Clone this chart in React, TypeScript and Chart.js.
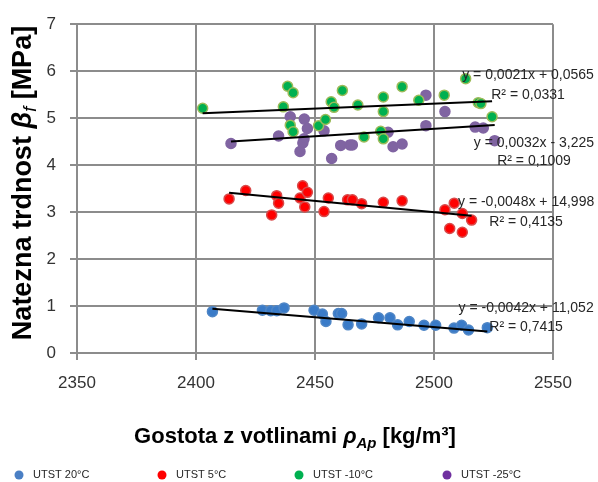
import React, { useEffect, useRef } from "react";
import { Chart, registerables } from "chart.js";

Chart.register(...registerables);

const FF = "'Liberation Sans', Arial, sans-serif";

// ---- data ----
const seriesLabels = ["UTST 20°C", "UTST 5°C", "UTST -10°C", "UTST -25°C"];

const blueX = [2406.9, 2427.9, 2431.4, 2433.9, 2437.0, 2449.6, 2453.1, 2454.6, 2459.8, 2461.2, 2463.9, 2469.6, 2476.7, 2481.5, 2484.7, 2489.6, 2495.8, 2500.7, 2508.4, 2511.6, 2514.5, 2522.4];
const blueY = [0.88, 0.91, 0.90, 0.90, 0.96, 0.91, 0.83, 0.67, 0.84, 0.84, 0.60, 0.62, 0.75, 0.75, 0.60, 0.67, 0.59, 0.59, 0.53, 0.59, 0.49, 0.54];

const redX = [2413.9, 2420.9, 2431.8, 2433.9, 2434.7, 2443.7, 2444.8, 2445.7, 2446.8, 2453.8, 2455.6, 2463.7, 2465.7, 2469.6, 2478.7, 2486.6, 2504.6, 2506.6, 2508.5, 2511.9, 2511.9, 2515.8];
const redY = [3.28, 3.46, 2.94, 3.35, 3.19, 3.30, 3.56, 3.11, 3.42, 3.01, 3.30, 3.26, 3.26, 3.18, 3.21, 3.24, 3.05, 2.65, 3.19, 2.97, 2.57, 2.83];

const greenX = [2402.8, 2436.7, 2438.5, 2439.6, 2440.8, 2440.8, 2451.5, 2454.4, 2456.8, 2458.0, 2461.5, 2468.0, 2470.6, 2477.6, 2478.7, 2478.7, 2478.7, 2486.6, 2493.6, 2504.3, 2513.3, 2518.6, 2519.7, 2524.4];
const greenY = [5.21, 5.24, 5.68, 4.85, 5.54, 4.71, 4.84, 4.97, 5.35, 5.23, 5.59, 5.28, 4.60, 4.72, 4.56, 5.45, 5.14, 5.67, 5.38, 5.49, 5.84, 5.33, 5.31, 5.03];

const purpleX = [2414.7, 2434.7, 2439.6, 2443.7, 2444.9, 2445.4, 2445.5, 2446.8, 2453.8, 2457.0, 2460.8, 2464.7, 2465.7, 2480.7, 2482.8, 2486.6, 2496.6, 2496.6, 2504.6, 2517.3, 2520.7, 2525.5];
const purpleY = [4.46, 4.62, 5.03, 4.29, 4.47, 4.56, 4.98, 4.78, 4.73, 4.14, 4.42, 4.43, 4.43, 4.70, 4.39, 4.45, 4.84, 5.49, 5.14, 4.81, 4.79, 4.52];

// trendline equations (as printed on the chart)
const slopes = [-0.0042, -0.0048, 0.0021, 0.0032];
const intercepts = [11.052, 14.998, 0.0565, -3.225];
const eqLabels = ["y = -0,0042x + 11,052", "y = -0,0048x + 14,998", "y = 0,0021x + 0,0565", "y = 0,0032x - 3,225"];
const r2Labels = ["R² = 0,7415", "R² = 0,4135", "R² = 0,0331", "R² = 0,1009"];
const eqLabelX = [2538.7, 2538.7, 2539.5, 2542.0];
const eqLabelY = [0.954, 3.21, 5.92, 4.47];
const r2LabelY = [0.554, 2.79, 5.5, 4.09];

const xMin = 2350, xMax = 2550, xStep = 50;
const yMin = 0, yMax = 7, yStep = 1;

// ---- styles ----
const fillColors = ["#3a7bc8", "#ff0000", "#00b050", "#8064a2"];
const borderColors = ["#4f86c6", "#d94a4a", "#9bbb59", "#8064a2"];
const legendColors = ["#4a7fc4", "#ff0000", "#00b050", "#7030a0"];
const legendDotX = [19, 162, 299, 447];
const gridColor = "#8c8c8c";

const allX = [blueX, redX, greenX, purpleX];
const allY = [blueY, redY, greenY, purpleY];

function drawSegments(ctx: CanvasRenderingContext2D, segs: { text: string; font: string; dy: number }[], cx: number, cy: number, rotate: boolean) {
  let total = 0;
  const widths: number[] = [];
  segs.forEach((s) => {
    ctx.font = s.font;
    const w = ctx.measureText(s.text).width;
    widths.push(w);
    total += w;
  });
  ctx.save();
  ctx.translate(cx, cy);
  if (rotate) ctx.rotate(-Math.PI / 2);
  ctx.textAlign = "left";
  ctx.textBaseline = "alphabetic";
  ctx.fillStyle = "#000";
  let x = -total / 2;
  segs.forEach((s, i) => {
    ctx.font = s.font;
    ctx.fillText(s.text, x, s.dy);
    x += widths[i];
  });
  ctx.restore();
}

const decorPlugin = {
  id: "decor",
  afterDraw(chart: any) {
    const ctx: CanvasRenderingContext2D = chart.ctx;
    const xs = chart.scales.x;
    const ys = chart.scales.y;
    // trendline equation labels
    ctx.save();
    ctx.fillStyle = "#262626";
    ctx.font = `14px ${FF}`;
    ctx.textAlign = "center";
    ctx.textBaseline = "middle";
    for (let i = 0; i < eqLabels.length; i++) {
      const px = xs.getPixelForValue(eqLabelX[i]);
      ctx.fillText(eqLabels[i], px, ys.getPixelForValue(eqLabelY[i]));
      ctx.fillText(r2Labels[i], px, ys.getPixelForValue(r2LabelY[i]));
    }
    ctx.restore();

    // axis titles
    drawSegments(
      ctx,
      [
        { text: "Gostota z votlinami ", font: `bold 22px ${FF}`, dy: 0 },
        { text: "ρ", font: `italic bold 22px ${FF}`, dy: 0 },
        { text: "Ap", font: `italic bold 15px ${FF}`, dy: 5 },
        { text: " [kg/m³]", font: `bold 22px ${FF}`, dy: 0 },
      ],
      (chart.chartArea.left + chart.chartArea.right) / 2 - 20,
      443,
      false
    );
    drawSegments(
      ctx,
      [
        { text: "Natezna trdnost ", font: `bold 27px ${FF}`, dy: 0 },
        { text: "β", font: `italic bold 27px ${FF}`, dy: 0 },
        { text: "f", font: `italic 18px ${FF}`, dy: 5 },
        { text: " [MPa]", font: `bold 27px ${FF}`, dy: 0 },
      ],
      31,
      183,
      true
    );

    // legend
    ctx.save();
    ctx.font = `11px ${FF}`;
    ctx.textAlign = "left";
    ctx.textBaseline = "middle";
    for (let i = 0; i < seriesLabels.length; i++) {
      ctx.beginPath();
      ctx.fillStyle = legendColors[i];
      ctx.arc(legendDotX[i], 475, 4.5, 0, Math.PI * 2);
      ctx.fill();
      ctx.fillStyle = "#262626";
      ctx.fillText(seriesLabels[i], legendDotX[i] + 14, 475);
    }
    ctx.restore();
  },
};

export default function App() {
  const ref = useRef<HTMLCanvasElement | null>(null);
  useEffect(() => {
    if (!ref.current) return;
    const datasets: any[] = [];
    for (let i = 0; i < 4; i++) {
      datasets.push({
        type: "scatter",
        label: seriesLabels[i],
        data: allX[i].map((x, j) => ({ x, y: allY[i][j] })),
        backgroundColor: fillColors[i],
        borderColor: borderColors[i],
        borderWidth: 1.5,
        pointRadius: 5,
        pointHoverRadius: 5,
        order: 2,
      });
    }
    for (let i = 0; i < 4; i++) {
      const x0 = Math.min(...allX[i]);
      const x1 = Math.max(...allX[i]);
      datasets.push({
        type: "line",
        label: "trend " + seriesLabels[i],
        data: [
          { x: x0, y: slopes[i] * x0 + intercepts[i] },
          { x: x1, y: slopes[i] * x1 + intercepts[i] },
        ],
        borderColor: "#000",
        borderWidth: 2,
        pointRadius: 0,
        fill: false,
        order: 1,
      });
    }
    const chart = new Chart(ref.current, {
      type: "scatter",
      data: { datasets },
      options: {
        animation: false,
        responsive: false,
        devicePixelRatio: 1,
        layout: { padding: { left: 0, right: 45, top: 21, bottom: 0 } },
        plugins: { legend: { display: false }, tooltip: { enabled: false } },
        scales: {
          x: {
            type: "linear",
            min: xMin,
            max: xMax,
            ticks: {
              stepSize: xStep,
              color: "#333333",
              font: { family: FF, size: 17 },
              padding: 13,
              callback: (v: any) => String(v),
            },
            grid: { color: gridColor, lineWidth: 2, tickLength: 7 },
            border: { color: gridColor, width: 2 },
            afterFit: (s: any) => {
              s.height = 129;
            },
          },
          y: {
            type: "linear",
            min: yMin,
            max: yMax,
            ticks: {
              stepSize: yStep,
              color: "#333333",
              font: { family: FF, size: 17 },
              padding: 14,
              callback: (v: any) => String(v),
            },
            grid: { color: gridColor, lineWidth: 2, tickLength: 7 },
            border: { color: gridColor, width: 2 },
            afterFit: (s: any) => {
              s.width = 77;
            },
          },
        },
      } as any,
      plugins: [decorPlugin],
    });
    return () => chart.destroy();
  }, []);
  return (
    <div style={{ position: "absolute", left: 0, top: 0, width: 598, height: 482, background: "#fff" }}>
      <canvas ref={ref} width={598} height={482} />
    </div>
  );
}
